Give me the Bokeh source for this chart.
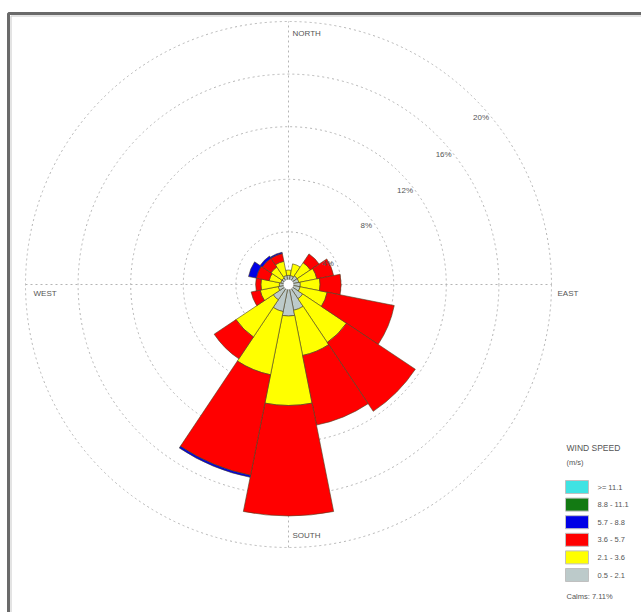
import math
from bokeh.plotting import figure
from bokeh.models import Range1d
from bokeh.core.properties import value
from bokeh.embed import file_html
from bokeh.resources import INLINE

# ---------------- data ----------------
directions = ["N", "NNE", "NE", "ENE", "E", "ESE", "SE", "SSE",
              "S", "SSW", "SW", "WSW", "W", "WNW", "NW", "NNW"]
bearings = [0, 22.5, 45, 67.5, 90, 112.5, 135, 157.5,
            180, 202.5, 225, 247.5, 270, 292.5, 315, 337.5]
# frequency (%) per speed class and direction
freq_05_21 = [0.7, 0.7, 0.8, 0.8, 0.9, 0.9, 1.3, 2.0, 2.4, 2.1, 1.4, 0.8, 0.7, 0.6, 0.6, 0.7]
freq_21_36 = [0.4, 0.9, 1.2, 1.4, 1.5, 2.1, 4.0, 3.5, 6.8, 4.9, 3.4, 1.4, 1.4, 0.9, 1.0, 1.1]
freq_36_57 = [0.0, 0.0, 0.8, 1.3, 1.6, 5.2, 6.3, 5.4, 8.4, 7.8, 2.0, 0.7, 0.4, 1.0, 0.8, 0.6]
freq_57_88 = [0.0, 0.0, 0.0, 0.0, 0.0, 0.0, 0.0, 0.0, 0.0, 0.15, 0.0, 0.0, 0.0, 0.6, 0.2, 0.1]
freq_88_111 = [0.0] * 16
freq_111 = [0.0] * 16
calms = "Calms: 7.11%"

class_labels = [">= 11.1", "8.8 - 11.1", "5.7 - 8.8", "3.6 - 5.7", "2.1 - 3.6", "0.5 - 2.1"]
class_colors = ["#3fe3e3", "#137a13", "#0000e6", "#ff0000", "#ffff00", "#bccaca"]

rings = [4, 8, 12, 16, 20]
ring_labels = ["4%", "8%", "12%", "16%", "20%"]
compass_labels = ["NORTH", "EAST", "SOUTH", "WEST"]

# ---------------- layout ----------------
W, H = 641, 612
CX, CY = 288, 284          # centre in pixels
K = 13.15                  # pixels per percent


def X(px):
    return (px - CX) / K


def Y(py):
    return (CY - py) / K


p = figure(width=W, height=H, x_range=Range1d(X(0), X(W)), y_range=Range1d(Y(H), Y(0)),
           output_backend="svg", toolbar_location=None, min_border=0,
           x_axis_location=None, y_axis_location=None, background_fill_color="white",
           border_fill_color="white")
p.grid.visible = False
p.outline_line_color = None

# frame (left and top border visible)
p.line([X(8), X(8), X(W + 5)], [Y(H + 5), Y(13), Y(13)], line_color="#6a6a6a", line_width=3)
p.line([X(10.5), X(10.5), X(W + 5)], [Y(H + 5), Y(15.5), Y(15.5)], line_color="#c8c8c8", line_width=1)

# grid rings
for r in rings:
    p.circle(x=[0], y=[0], radius=r, fill_color=None, line_color="#b4b4b4",
             line_dash="2 3", line_width=1)
rmax = rings[-1]
p.line([0, 0], [-rmax, rmax], line_color="#b4b4b4", line_dash="2 3", line_width=1)
p.line([-rmax, rmax], [0, 0], line_color="#b4b4b4", line_dash="2 3", line_width=1)

# petals (stacked annular wedges)
classes_low_to_high = [freq_05_21, freq_21_36, freq_36_57, freq_57_88, freq_88_111, freq_111]
colors_low_to_high = list(reversed(class_colors))
cum = [0.0] * 16
for freqs, col in zip(classes_low_to_high, colors_low_to_high):
    xs, ys, inner, outer, sa, ea = [], [], [], [], [], []
    for i, b in enumerate(bearings):
        f = freqs[i]
        if f <= 0:
            continue
        a = 90 - b
        xs.append(0)
        ys.append(0)
        inner.append(cum[i])
        outer.append(cum[i] + f)
        sa.append(math.radians(a - 11.25))
        ea.append(math.radians(a + 11.25))
        cum[i] += f
    if xs:
        p.annular_wedge(x=xs, y=ys, inner_radius=inner, outer_radius=outer,
                        start_angle=sa, end_angle=ea, fill_color=col,
                        line_color="#4b4020", line_width=0.7, line_alpha=0.85)

# calm circle
p.circle(x=[0], y=[0], radius=0.4, fill_color="white", line_color="#888888", line_width=0.6)

FONT = value("Liberation Sans")

# ring labels
ang = [28, 37, 39, 40, 41]
lx = [(r - 0.6) * math.cos(math.radians(a)) for r, a in zip(rings, ang)]
ly = [(r - 0.6) * math.sin(math.radians(a)) for r, a in zip(rings, ang)]
p.text(x=lx, y=ly, text=ring_labels, text_font=FONT, text_font_size="8px",
       text_color="#555555", text_align="center", text_baseline="middle")

# compass labels
p.text(x=[X(292), X(557), X(292), X(33)], y=[Y(33), Y(293), Y(535), Y(293)],
       text=compass_labels, text_font=FONT, text_font_size="8px",
       text_color="#555555", text_align="left", text_baseline="middle")

# legend
p.text(x=[X(566)], y=[Y(447)], text=["WIND SPEED"], text_font=FONT, text_font_size="8.5px",
       text_color="#555555", text_baseline="middle")
p.text(x=[X(566)], y=[Y(462)], text=["(m/s)"], text_font=FONT, text_font_size="7.5px",
       text_color="#555555", text_baseline="middle")
box_top = [480 + 17.6 * i for i in range(6)]
p.quad(left=[X(565)] * 6, right=[X(588)] * 6,
       top=[Y(t) for t in box_top], bottom=[Y(t + 13) for t in box_top],
       fill_color=class_colors, line_color="#c0c0c0", line_width=1)
p.text(x=[X(597)] * 6, y=[Y(t + 6.5) for t in box_top], text=class_labels, text_font=FONT,
       text_font_size="7.5px", text_color="#555555", text_baseline="middle")
p.text(x=[X(566)], y=[Y(596)], text=[calms], text_font=FONT, text_font_size="7.5px",
       text_color="#555555", text_baseline="middle")

open("out.html", "w").write(file_html(p, INLINE))
